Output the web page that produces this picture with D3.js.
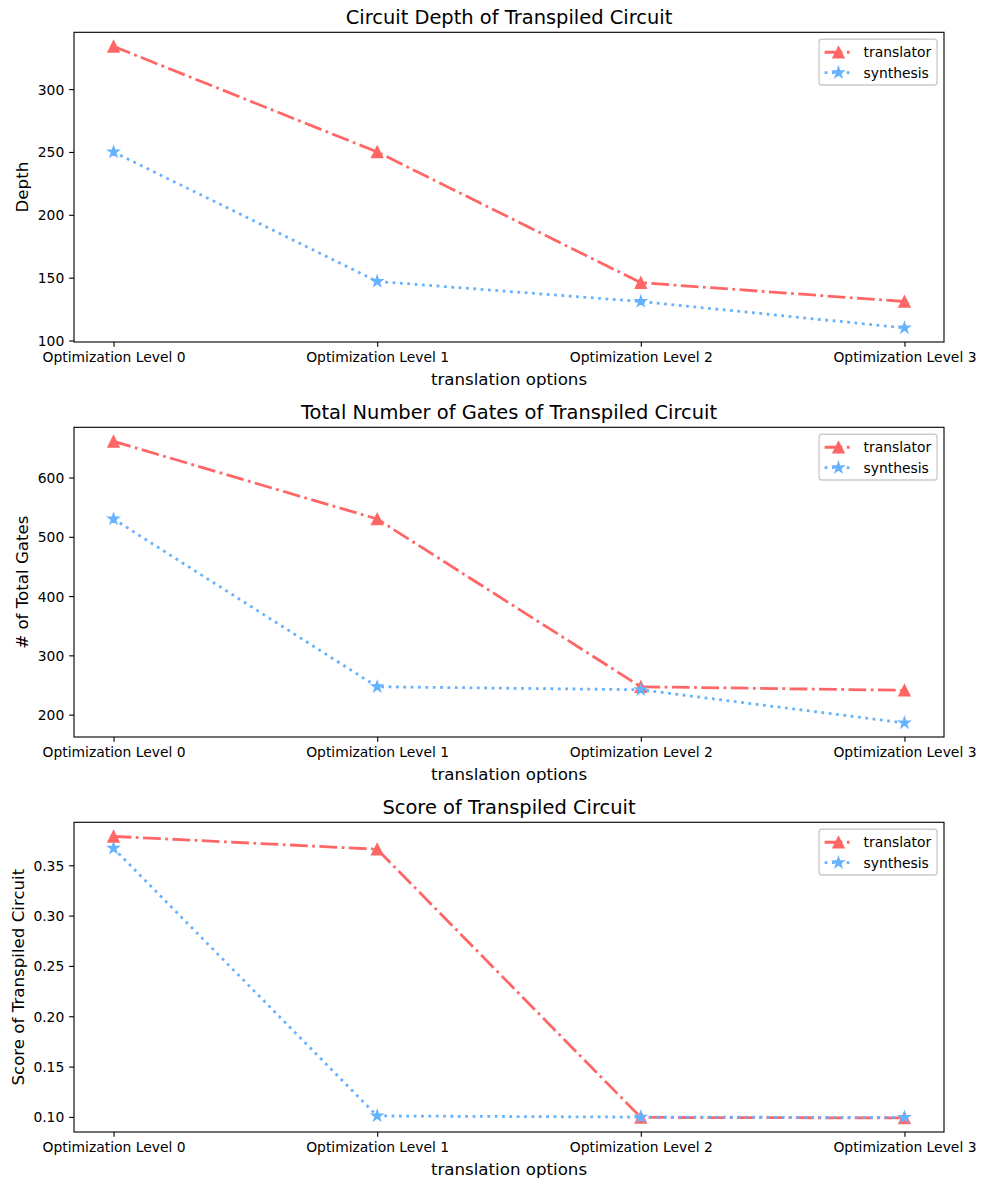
<!DOCTYPE html>
<html>
<head>
<meta charset="utf-8">
<script src="https://cdn.jsdelivr.net/npm/d3@7"></script>
<style>
  html, body { margin: 0; padding: 0; background: #ffffff; }
  svg { display: block; font-family: "DejaVu Sans", sans-serif; }
</style>
</head>
<body>
<svg id="chart" width="985" height="1189"></svg>
<script>
// ---- data ----
const categories = ["Optimization Level 0", "Optimization Level 1", "Optimization Level 2", "Optimization Level 3"];
const seriesNames = ["translator", "synthesis"];

const depthTranslator = [334, 250, 146, 131];
const depthSynthesis  = [250, 147, 131, 110];
const depthTicks = [100, 150, 200, 250, 300];

const gatesTranslator = [661, 530, 247, 241];
const gatesSynthesis  = [530, 247, 242, 186];
const gatesTicks = [200, 300, 400, 500, 600];

const scoreTranslator = [0.3787, 0.3659, 0.0995, 0.0990];
const scoreSynthesis  = [0.3669, 0.1010, 0.0998, 0.0995];
const scoreTicks = [0.10, 0.15, 0.20, 0.25, 0.30, 0.35];

const titles = ["Circuit Depth of Transpiled Circuit", "Total Number of Gates of Transpiled Circuit", "Score of Transpiled Circuit"];
const yLabels = ["Depth", "# of Total Gates", "Score of Transpiled Circuit"];
const xLabel = "translation options";

// ---- styling ----
const colors = { translator: "#ff6666", synthesis: "#66b2ff" };
const PT = 100 / 72;
const lw = 2 * PT;
const dashes = {
  translator: [6.4 * lw, 1.6 * lw, 1 * lw, 1.6 * lw].join(","),
  synthesis: [1 * lw, 1.65 * lw].join(",")
};
const msize = 8 * PT;

const svg = d3.select("#chart");
const left = 74, right = 944;
const tops = [32.3, 427.3, 822.3];
const axH = 309.7;

const panels = [
  { t: depthTranslator, s: depthSynthesis, ticks: depthTicks, fmt: d3.format("d") },
  { t: gatesTranslator, s: gatesSynthesis, ticks: gatesTicks, fmt: d3.format("d") },
  { t: scoreTranslator, s: scoreSynthesis, ticks: scoreTicks, fmt: d3.format(".2f") }
];

function trianglePath(r) {
  return `M0,${-r}L${-r},${r}L${r},${r}Z`;
}
function starPath(r) {
  const inner = r * 0.381966;
  let p = "";
  for (let i = 0; i < 10; i++) {
    const rad = (i % 2 === 0) ? r : inner;
    const a = -Math.PI / 2 + i * Math.PI / 5;
    p += (i === 0 ? "M" : "L") + (rad * Math.cos(a)).toFixed(3) + "," + (rad * Math.sin(a)).toFixed(3);
  }
  return p + "Z";
}
const markerPaths = { translator: trianglePath(msize / 2), synthesis: starPath(msize / 2) };

const x = d3.scaleLinear().domain([-0.15, 3.15]).range([left, right]);

panels.forEach((pn, i) => {
  const top = tops[i], bottom = top + axH;
  const all = pn.t.concat(pn.s);
  const [mn, mx] = d3.extent(all);
  const pad = (mx - mn) * 0.05;
  const y = d3.scaleLinear().domain([mn - pad, mx + pad]).range([bottom, top]);

  const g = svg.append("g");

  // x axis
  const xAxis = d3.axisBottom(x).tickValues([0, 1, 2, 3])
    .tickFormat(d => categories[d]).tickSize(3.5 * PT).tickPadding(3.5 * PT);
  const xg = g.append("g").attr("transform", `translate(0,${bottom})`).call(xAxis);
  xg.select(".domain").remove();
  xg.selectAll(".tick line").attr("stroke", "#000").attr("stroke-width", 0.8 * PT);
  xg.selectAll(".tick text").attr("font-size", 10 * PT).attr("fill", "#000")
    .attr("font-family", "DejaVu Sans").attr("dy", null).attr("y", 20.3)
    .attr("dominant-baseline", "auto");

  // y axis
  const yAxis = d3.axisLeft(y).tickValues(pn.ticks).tickFormat(pn.fmt)
    .tickSize(3.5 * PT).tickPadding(3.5 * PT);
  const yg = g.append("g").attr("transform", `translate(${left},0)`).call(yAxis);
  yg.select(".domain").remove();
  yg.selectAll(".tick line").attr("stroke", "#000").attr("stroke-width", 0.8 * PT);
  yg.selectAll(".tick text").attr("font-size", 10 * PT).attr("fill", "#000")
    .attr("font-family", "DejaVu Sans").attr("dy", "0.36em");

  // y label position from tick label bbox
  let minX = Infinity;
  yg.selectAll(".tick text").each(function () {
    const b = this.getBBox();
    minX = Math.min(minX, left + b.x);
  });
  const ylx = minX - 4 * PT - 0.24 * 12 * PT;
  g.append("text")
    .attr("transform", `translate(${ylx},${(top + bottom) / 2}) rotate(-90)`)
    .attr("text-anchor", "middle").attr("font-size", 12 * PT).attr("fill", "#000")
    .text(yLabels[i]);

  // x label
  g.append("text").attr("x", (left + right) / 2).attr("y", bottom + 43)
    .attr("text-anchor", "middle").attr("font-size", 12 * PT).attr("fill", "#000")
    .text(xLabel);

  // title
  g.append("text").attr("x", (left + right) / 2).attr("y", top - 6 * PT - 0.2)
    .attr("text-anchor", "middle").attr("font-size", 14 * PT).attr("fill", "#000")
    .text(titles[i]);

  const seriesData = { translator: pn.t, synthesis: pn.s };
  const line = d3.line().x((d, j) => x(j)).y(d => y(d));
  seriesNames.forEach(name => {
    const vals = seriesData[name];
    g.append("path").datum(vals).attr("d", line)
      .attr("fill", "none").attr("stroke", colors[name]).attr("stroke-width", lw)
      .attr("stroke-dasharray", dashes[name]).attr("stroke-linecap", "butt")
      .attr("stroke-linejoin", "round");
    g.selectAll(null).data(vals).enter().append("path")
      .attr("d", markerPaths[name])
      .attr("transform", (d, j) => `translate(${x(j)},${y(d)})`)
      .attr("fill", colors[name]).attr("stroke", colors[name]).attr("stroke-width", 1 * PT)
      .attr("stroke-linejoin", "miter");
  });

  // spines
  g.append("rect").attr("x", left).attr("y", top).attr("width", right - left).attr("height", axH)
    .attr("fill", "none").attr("stroke", "#000").attr("stroke-width", 0.8 * PT);

  // legend
  const fs = 10 * PT;
  const lgW = 118, lgH = 45.7;
  const lgX = right - 6.95 - lgW, lgY = top + 6.95;
  const lg = g.append("g");
  lg.append("rect").attr("x", lgX).attr("y", lgY).attr("width", lgW).attr("height", lgH)
    .attr("rx", 2.8).attr("ry", 2.8)
    .attr("fill", "#ffffff").attr("fill-opacity", 0.8)
    .attr("stroke", "#cccccc").attr("stroke-width", 1 * PT);
  seriesNames.forEach((name, k) => {
    const cy = lgY + 13 + k * 20.4;
    const x0 = lgX + 0.4 * fs, x1 = x0 + 2 * fs;
    lg.append("line").attr("x1", x0).attr("x2", x1).attr("y1", cy).attr("y2", cy)
      .attr("stroke", colors[name]).attr("stroke-width", lw)
      .attr("stroke-dasharray", dashes[name]);
    lg.append("path").attr("d", markerPaths[name])
      .attr("transform", `translate(${(x0 + x1) / 2},${cy})`)
      .attr("fill", colors[name]).attr("stroke", colors[name]).attr("stroke-width", 1 * PT);
    lg.append("text").attr("x", x1 + 0.8 * fs).attr("y", cy).attr("dy", "0.36em")
      .attr("font-size", fs).attr("fill", "#000").text(name);
  });
});
</script>
</body>
</html>
